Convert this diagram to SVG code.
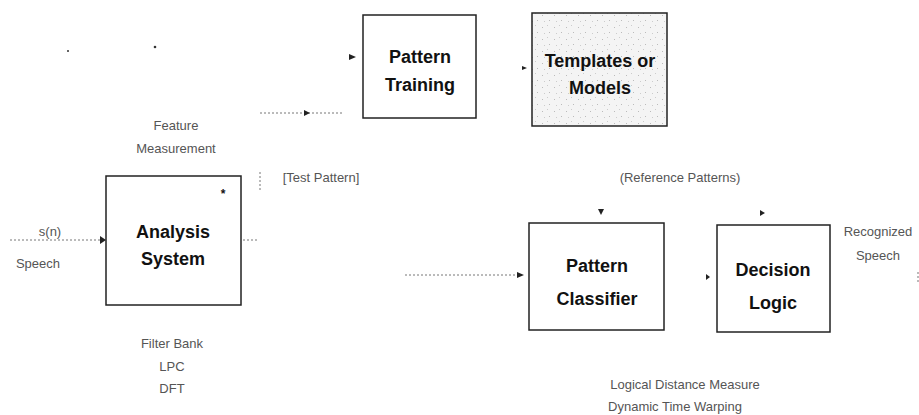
<svg xmlns="http://www.w3.org/2000/svg" width="919" height="415" viewBox="0 0 919 415">
<defs>
<style>
.box{fill:#fff;stroke:#222;stroke-width:1.5}
.tpl{fill:url(#speckle);stroke:#222;stroke-width:1.5}
.bt{font-family:"Liberation Sans",Arial,sans-serif;font-weight:bold;font-size:18px;fill:#111;text-anchor:middle}
.lb{font-family:"Liberation Sans",Arial,sans-serif;font-size:13px;fill:#555;text-anchor:middle}
.con{stroke:#777;stroke-width:1;stroke-dasharray:2 2;fill:none}
.ah{fill:#222}
</style>
<pattern id="speckle" width="12" height="12" patternUnits="userSpaceOnUse">
<rect width="12" height="12" fill="#f4f4f4"/>
<rect x="2" y="3" width="1" height="1" fill="#bbb"/>
<rect x="7" y="1" width="1" height="1" fill="#ccc"/>
<rect x="9" y="8" width="1" height="1" fill="#bbb"/>
<rect x="4" y="9" width="1" height="1" fill="#ccc"/>
</pattern>
</defs>
<g id="connectors">
<line class="con" x1="10" y1="240" x2="100" y2="240"/>
<polygon class="ah" points="100,236 106,240 100,244"/>
<line class="con" x1="243" y1="240" x2="258" y2="240"/>
<line class="con" x1="260" y1="172" x2="260" y2="192"/>
<line class="con" x1="260" y1="113" x2="342" y2="113"/>
<polygon class="ah" points="304,110 310,113 304,116"/>
<polygon class="ah" points="349,54 356,57 349,60"/>
<polygon class="ah" points="522,66 527,68 522,70"/>
<line class="con" x1="405" y1="275" x2="518" y2="275"/>
<polygon class="ah" points="517,272 524,275 517,278"/>
<polygon class="ah" points="598,209 601,215 604,209"/>
<polygon class="ah" points="760,210 765,213 760,216"/>
<polygon class="ah" points="706,274 710,277 706,280"/>
<line class="con" x1="918" y1="272" x2="918" y2="282"/>
</g>
<g id="analysis">
<rect class="box" x="106" y="176" width="135" height="129"/>
<text class="bt" x="173" y="238">Analysis</text>
<text class="bt" x="173" y="265">System</text>
<text class="bt" x="223" y="198" style="font-size:12px">*</text>
</g>
<g id="training">
<rect class="box" x="363" y="15" width="113" height="103"/>
<text class="bt" x="420" y="63">Pattern</text>
<text class="bt" x="420" y="91">Training</text>
</g>
<g id="templates">
<rect class="tpl" x="532" y="13" width="135" height="113"/>
<text class="bt" x="600" y="67">Templates or</text>
<text class="bt" x="600" y="94">Models</text>
</g>
<g id="classifier">
<rect class="box" x="529" y="223" width="135" height="107"/>
<text class="bt" x="597" y="272">Pattern</text>
<text class="bt" x="597" y="305">Classifier</text>
</g>
<g id="decision">
<rect class="box" x="717" y="225" width="113" height="107"/>
<text class="bt" x="773" y="276">Decision</text>
<text class="bt" x="773" y="309">Logic</text>
</g>
<g id="labels">
<text class="lb" x="176" y="130">Feature</text>
<text class="lb" x="176" y="153">Measurement</text>
<text class="lb" x="321" y="182">[Test Pattern]</text>
<text class="lb" x="680" y="182">(Reference Patterns)</text>
<text class="lb" x="50" y="236">s(n)</text>
<text class="lb" x="38" y="268">Speech</text>
<text class="lb" x="878" y="236">Recognized</text>
<text class="lb" x="878" y="260">Speech</text>
<text class="lb" x="172" y="348">Filter Bank</text>
<text class="lb" x="172" y="371">LPC</text>
<text class="lb" x="172" y="393">DFT</text>
<text class="lb" x="685" y="389">Logical Distance Measure</text>
<text class="lb" x="675" y="411">Dynamic Time Warping</text>
<circle cx="68" cy="51" r="1" fill="#333"/>
<circle cx="155" cy="47" r="1.3" fill="#333"/>
</g>
</svg>
